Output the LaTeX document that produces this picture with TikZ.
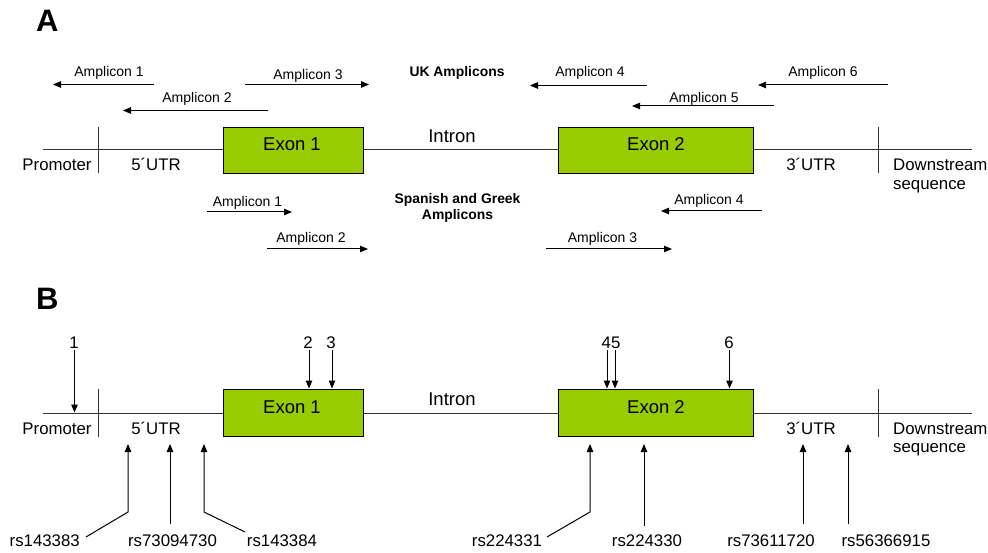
\documentclass[tikz,border=0pt]{standalone}
\usepackage{fontspec}
\setmainfont{Liberation Sans}
\usetikzlibrary{arrows.meta}
\definecolor{exongreen}{HTML}{99CC00}
\definecolor{linegray}{HTML}{333333}
\begin{document}
\begin{tikzpicture}[x=1pt,y=-1pt,
  amp/.style={inner sep=0pt, anchor=base, font=\fontsize{14}{16}\selectfont},
  reg/.style={inner sep=0pt, anchor=base, font=\fontsize{16.8}{18.5}\selectfont},
  big/.style={inner sep=0pt, anchor=base, font=\fontsize{18.5}{20}\selectfont},
  panel/.style={inner sep=0pt, anchor=base west, font=\fontsize{31}{33}\selectfont\bfseries},
  hdr/.style={inner sep=0pt, anchor=base, align=center, font=\fontsize{13.9}{16}\selectfont\bfseries},
  exonbox/.style={draw=black, line width=1.3pt, fill=exongreen, inner sep=0pt, anchor=north west},
  gline/.style={draw=linegray, line width=1pt},
  arr/.style={draw=black, line width=1pt, -{Triangle[length=8pt,width=6.5pt]}}
]
\useasboundingbox (0,0) rectangle (988,553);

%%%%%%%%%%%%%%%% Panel A %%%%%%%%%%%%%%%%
\node[panel] (labA) at (36,32) {A};

% gene structure
\node[exonbox, minimum width=140pt, minimum height=46pt] (aex1) at (223,127) {};
\node[exonbox, minimum width=195pt, minimum height=46pt] (aex2) at (558,127) {};
\coordinate (aL) at (43,150);
\coordinate (aR) at (972,150);
\draw[gline] (aL) -- (aex1.west |- aL);
\draw[gline] (aex1.east |- aL) -- (aex2.west |- aL);
\draw[gline] (aex2.east |- aL) -- (aR);
\coordinate (aS1t) at (98,127); \coordinate (aS1b) at (98,173);
\coordinate (aS2t) at (878,127); \coordinate (aS2b) at (878,173);
\draw[gline] (aS1t) -- (aS1b);
\draw[gline] (aS2t) -- (aS2b);

\node[big] (aex1t) at (292,150.7) {Exon 1};
\node[big] (aex2t) at (656,150.7) {Exon 2};
\node[big] (aint) at (452,142.7) {Intron};
\node[reg] (aprom) at (57,171) {Promoter};
\node[reg] (autr5) at (156,171) {5´UTR};
\node[reg] (autr3) at (811,171) {3´UTR};
\node[reg, anchor=base west, align=left] (adown) at (893,189.5) {Downstream\\sequence};

% UK amplicons
\node[hdr] (uk) at (457,77) {UK Amplicons};
\node[amp] (u1) at (109,77) {Amplicon 1};
\coordinate (u1s) at (154,84.5); \coordinate (u1e) at (53,84.5);
\draw[arr] (u1s) -- (u1e);
\node[amp] (u3) at (308,79.5) {Amplicon 3};
\coordinate (u3s) at (245,84.5); \coordinate (u3e) at (369,84.5);
\draw[arr] (u3s) -- (u3e);
\node[amp] (u2) at (197,102.5) {Amplicon 2};
\coordinate (u2s) at (268,110.5); \coordinate (u2e) at (123,110.5);
\draw[arr] (u2s) -- (u2e);
\node[amp] (u4) at (590,77) {Amplicon 4};
\coordinate (u4s) at (647,85.5); \coordinate (u4e) at (530,85.5);
\draw[arr] (u4s) -- (u4e);
\node[amp] (u6) at (823,77) {Amplicon 6};
\coordinate (u6s) at (888,85); \coordinate (u6e) at (758,85);
\draw[arr] (u6s) -- (u6e);
\node[amp] (u5) at (704,102.5) {Amplicon 5};
\coordinate (u5s) at (774,106); \coordinate (u5e) at (632,106);
\draw[arr] (u5s) -- (u5e);

% Spanish and Greek amplicons
\node[hdr] (sg) at (457.5,220) {Spanish and Greek\\Amplicons};
\node[amp] (s1) at (247.5,206.5) {Amplicon 1};
\coordinate (s1s) at (207,212); \coordinate (s1e) at (292,212);
\draw[arr] (s1s) -- (s1e);
\node[amp] (s2) at (311,242.5) {Amplicon 2};
\coordinate (s2s) at (267,249); \coordinate (s2e) at (368,249);
\draw[arr] (s2s) -- (s2e);
\node[amp] (s4) at (709,204.3) {Amplicon 4};
\coordinate (s4s) at (762,211); \coordinate (s4e) at (661,211);
\draw[arr] (s4s) -- (s4e);
\node[amp] (s3) at (602.5,242.5) {Amplicon 3};
\coordinate (s3s) at (546,249); \coordinate (s3e) at (672,249);
\draw[arr] (s3s) -- (s3e);

%%%%%%%%%%%%%%%% Panel B %%%%%%%%%%%%%%%%
\node[panel] (labB) at (36,309) {B};

\node[exonbox, minimum width=140pt, minimum height=47pt] (bex1) at (223,389) {};
\node[exonbox, minimum width=195pt, minimum height=47pt] (bex2) at (558,389) {};
\coordinate (bL) at (43,413);
\coordinate (bR) at (972,413);
\draw[gline] (bL) -- (bex1.west |- bL);
\draw[gline] (bex1.east |- bL) -- (bex2.west |- bL);
\draw[gline] (bex2.east |- bL) -- (bR);
\coordinate (bS1t) at (98,389); \coordinate (bS1b) at (98,437);
\coordinate (bS2t) at (878,389); \coordinate (bS2b) at (878,437);
\draw[gline] (bS1t) -- (bS1b);
\draw[gline] (bS2t) -- (bS2b);

\node[big] (bex1t) at (292,413.3) {Exon 1};
\node[big] (bex2t) at (656,413.3) {Exon 2};
\node[big] (bint) at (452,405) {Intron};
\node[reg] (bprom) at (57,434.3) {Promoter};
\node[reg] (butr5) at (156,434.3) {5´UTR};
\node[reg] (butr3) at (811,434.3) {3´UTR};
\node[reg, anchor=base west, align=left] (bdown) at (893,452.8) {Downstream\\sequence};

% numbered sites
\node[reg] (n1) at (74,348.3) {1};
\node[reg] (n2) at (308,348.3) {2};
\node[reg] (n3) at (331,348.3) {3};
\node[reg] (n45) at (611,348.3) {45};
\node[reg] (n6) at (729,348.3) {6};
\coordinate (n1s) at (74.5,350); \coordinate (n1e) at (74.5,412.5);
\coordinate (n2s) at (309,350); \coordinate (n2e) at (309,388.5);
\coordinate (n3s) at (332,350); \coordinate (n3e) at (332,388.5);
\coordinate (n4s) at (607,350); \coordinate (n4e) at (607,388.5);
\coordinate (n5s) at (615,350); \coordinate (n5e) at (615,388.5);
\coordinate (n6s) at (729.5,350); \coordinate (n6e) at (729.5,388.5);
\draw[arr] (n1s) -- (n1e);
\draw[arr] (n2s) -- (n2e);
\draw[arr] (n3s) -- (n3e);
\draw[arr] (n4s) -- (n4e);
\draw[arr] (n5s) -- (n5e);
\draw[arr] (n6s) -- (n6e);

% SNP labels
\node[reg] (rs1) at (44.7,546.7) {rs143383};
\node[reg] (rs2) at (172.5,546.7) {rs73094730};
\node[reg] (rs3) at (282,546.7) {rs143384};
\node[reg] (rs4) at (507,546.7) {rs224331};
\node[reg] (rs5) at (647,546.7) {rs224330};
\node[reg] (rs6) at (771,546.7) {rs73611720};
\node[reg] (rs7) at (886,546.7) {rs56366915};

\coordinate (r1a) at (86,537); \coordinate (r1b) at (128,512); \coordinate (r1c) at (128,444);
\draw[arr] (r1a) -- (r1b) -- (r1c);
\coordinate (r2a) at (170,524); \coordinate (r2c) at (170,444);
\draw[arr] (r2a) -- (r2c);
\coordinate (r3a) at (245,532); \coordinate (r3b) at (204,512); \coordinate (r3c) at (204,444);
\draw[arr] (r3a) -- (r3b) -- (r3c);
\coordinate (r4a) at (547,537); \coordinate (r4b) at (590,512); \coordinate (r4c) at (590,444);
\draw[arr] (r4a) -- (r4b) -- (r4c);
\coordinate (r5a) at (644,526); \coordinate (r5c) at (644,444);
\draw[arr] (r5a) -- (r5c);
\coordinate (r6a) at (803,524); \coordinate (r6c) at (803,444);
\draw[arr] (r6a) -- (r6c);
\coordinate (r7a) at (848,524); \coordinate (r7c) at (848,444);
\draw[arr] (r7a) -- (r7c);
\end{tikzpicture}
\end{document}
